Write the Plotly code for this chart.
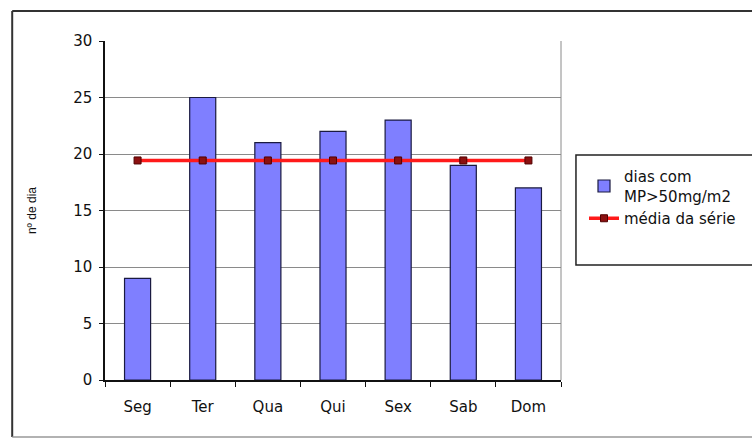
import plotly.graph_objects as go

dias = ["Seg", "Ter", "Qua", "Qui", "Sex", "Sab", "Dom"]
valores = [9, 25, 21, 22, 23, 19, 17]
media_val = sum(valores) / len(valores)
media = [media_val] * len(dias)
yticks = [0, 5, 10, 15, 20, 25, 30]

W, H = 752, 439
L, R, T, B = 105, 190, 41, 59
pw = W - L - R
ph = H - T - B

def px_x(p):
    return (p - L) / pw

def px_y(p):
    return (H - B - p) / ph

fig = go.Figure()
fig.add_trace(go.Bar(
    x=dias, y=valores, name="dias com<br>MP>50mg/m2",
    marker=dict(color="#7f7fff", line=dict(color="#1a1a40", width=1.2)),
    width=0.4,
))
fig.add_trace(go.Scatter(
    x=dias, y=media, name="média da série", mode="lines+markers",
    line=dict(color="#ff1a1a", width=3.5),
    marker=dict(symbol="square", size=7, color="#8b1010",
                line=dict(color="#500000", width=1)),
))

FAM = "DejaVu Sans, Liberation Sans, Arial, sans-serif"
font = dict(family=FAM, color="#111", size=15)

fig.update_layout(
    width=W, height=H,
    margin=dict(l=L, r=R, t=T, b=B),
    paper_bgcolor="white", plot_bgcolor="white",
    font=font,
    showlegend=True,
    legend=dict(
        x=px_x(584), y=px_y(160), xanchor="left", yanchor="top",
        borderwidth=0, bgcolor="rgba(0,0,0,0)",
        font=dict(size=15, family=FAM, color="#111"),
        tracegroupgap=4, itemwidth=30,
    ),
    bargap=0.6,
)
fig.update_xaxes(
    showline=True, linecolor="#111", linewidth=1.5,
    ticks="outside", tickson="boundaries", ticklen=5, tickcolor="#111",
    showgrid=False, tickfont=dict(size=15), ticklabelstandoff=12,
)
fig.update_yaxes(
    range=[0, 30], tickvals=yticks, showline=True, linecolor="#111", linewidth=1.5,
    ticks="outside", ticklen=4, tickcolor="#111",
    showgrid=True, gridcolor="#8a8a8a", gridwidth=1,
    zeroline=False, tickfont=dict(size=15), ticklabelstandoff=4,
    title=dict(text="nº de dia", font=dict(size=12, family="Liberation Sans, Arial, sans-serif"), standoff=34),
)
# plot-area right border (gray)
fig.add_shape(type="line", xref="paper", yref="paper", x0=1, x1=1, y0=0, y1=1,
              line=dict(color="#8a8a8a", width=1))
# legend box
fig.add_shape(type="rect", xref="paper", yref="paper",
              x0=px_x(577), x1=px_x(790), y0=px_y(155), y1=px_y(265),
              line=dict(color="#222", width=1.5), fillcolor="white", layer="below")
# chart outer border
fig.add_shape(type="line", xref="paper", yref="paper",
              x0=px_x(12), x1=1.6, y0=px_y(11), y1=px_y(11),
              line=dict(color="#333", width=2))
fig.add_shape(type="line", xref="paper", yref="paper",
              x0=px_x(12), x1=px_x(12), y0=px_y(11), y1=px_y(437),
              line=dict(color="#333", width=2))
fig.add_shape(type="line", xref="paper", yref="paper",
              x0=px_x(12), x1=1.6, y0=px_y(437), y1=px_y(437),
              line=dict(color="#999", width=1.5))

fig.write_html("out.html")
